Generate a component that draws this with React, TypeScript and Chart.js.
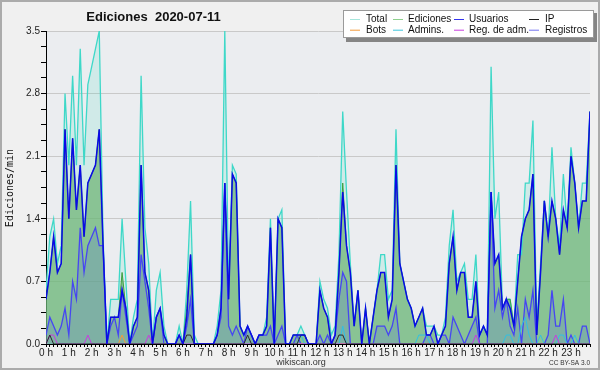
import React, { useEffect, useRef } from "react";
import { Chart, registerables } from "chart.js";

Chart.register(...registerables);

const TITLE = "Ediciones  2020-07-11";
const Y_TITLE = "Ediciones/min";
const FOOTER = "wikiscan.org";
const LICENSE = "CC BY-SA 3.0";

const HOUR_LABELS = [
  "0 h", "1 h", "2 h", "3 h", "4 h", "5 h", "6 h", "7 h", "8 h", "9 h", "10 h", "11 h",
  "12 h", "13 h", "14 h", "15 h", "16 h", "17 h", "18 h", "19 h", "20 h", "21 h", "22 h", "23 h",
];
const Y_TICKS = [0, 0.7, 1.4, 2.1, 2.8, 3.5];
const Y_MINOR_PER_MAJOR = 4;

// one value every 10 minutes (edits per minute)
const TOTAL = [
  0.6, 1.2, 1.4, 0.9, 1.1, 2.8, 2.0, 3.0, 2.0, 3.3, 2.0, 2.9, 3.1, 3.3, 3.5, 1.2, 0, 0.5, 0.5, 0.5, 1.4, 0.7, 0, 0.3,
  0.5, 3.0, 1.3, 0.9, 0, 0.6, 0.8, 0.2, 0, 0, 0, 0.2, 0, 0.6, 1.6, 0.1, 0, 0, 0, 0, 0, 0.2, 0.6, 3.5,
  0.6, 2.0, 1.9, 0.2, 0.1, 0.2, 0.1, 0, 0.1, 0.1, 0.3, 1.4, 0, 1.4, 1.5, 0, 0, 0.1, 0.1, 0.2, 0.1, 0, 0, 0,
  0.7, 0.5, 0.4, 0.1, 0.2, 1.0, 2.6, 1.7, 0.9, 0.2, 0.6, 0, 0.4, 0, 0.3, 0.6, 1.0, 1.0, 0.5, 0.6, 2.4, 0.9, 0.7, 0.5,
  0.4, 0.2, 0.3, 0.4, 0.2, 0.2, 0.2, 0.1, 0.1, 0.3, 1.1, 1.5, 0.7, 0.8, 0.9, 0.5, 0.5, 1.0, 0.1, 0.2, 0.1, 3.1, 1.4, 1.7,
  0.4, 0.5, 0.5, 0.2, 1.0, 1.0, 1.8, 1.8, 2.5, 0.2, 0.9, 1.6, 1.2, 2.2, 1.4, 1.1, 1.9, 1.3, 2.2, 1.8, 1.3, 1.8, 1.8, 2.6,
];
const EDICIONES = [
  0.5, 0.8, 1.2, 0.8, 0.9, 2.4, 1.4, 2.3, 1.5, 2.0, 1.2, 1.8, 1.9, 2.0, 2.4, 1.1, 0, 0.3, 0.3, 0.3, 0.8, 0.4, 0, 0.2,
  0.3, 2.0, 0.8, 0.6, 0, 0.3, 0.4, 0.1, 0, 0, 0, 0.1, 0, 0.4, 1.0, 0, 0, 0, 0, 0, 0, 0.1, 0.4, 1.8,
  0.5, 1.9, 1.8, 0.2, 0.1, 0.2, 0.1, 0, 0.1, 0.1, 0.2, 1.3, 0, 1.4, 1.3, 0, 0, 0.1, 0.1, 0.1, 0.1, 0, 0, 0,
  0.6, 0.4, 0.3, 0, 0.1, 0.8, 1.8, 1.1, 0.8, 0.2, 0.6, 0, 0.4, 0, 0.3, 0.6, 0.8, 0.8, 0.3, 0.5, 2.0, 0.9, 0.7, 0.5,
  0.4, 0.2, 0.3, 0.4, 0.1, 0.1, 0.2, 0, 0.1, 0.2, 0.9, 1.2, 0.6, 0.8, 0.8, 0.3, 0.3, 0.7, 0.1, 0.2, 0.1, 1.7, 0.9, 1.0,
  0.4, 0.5, 0.5, 0.2, 0.7, 1.2, 1.4, 1.5, 1.9, 0.1, 0.8, 1.6, 1.2, 1.6, 1.4, 1.0, 1.5, 1.3, 2.1, 1.8, 1.3, 1.6, 1.6, 2.6,
];
const USUARIOS = [
  0.5, 0.8, 1.2, 0.8, 0.9, 2.4, 1.4, 2.3, 1.5, 2.0, 1.2, 1.8, 1.9, 2.0, 2.4, 1.1, 0, 0.3, 0.3, 0.3, 0.6, 0.4, 0, 0.2,
  0.3, 2.0, 0.8, 0.6, 0, 0.3, 0.4, 0.1, 0, 0, 0, 0.1, 0, 0.3, 1.0, 0, 0, 0, 0, 0, 0, 0.1, 0.4, 1.8,
  0.5, 1.9, 1.8, 0.2, 0.1, 0.2, 0.1, 0, 0.1, 0.1, 0.2, 1.3, 0, 1.4, 1.3, 0, 0, 0.1, 0.1, 0.1, 0.1, 0, 0, 0,
  0.6, 0.4, 0.3, 0, 0.1, 0.8, 1.7, 1.1, 0.8, 0.2, 0.6, 0, 0.4, 0, 0.3, 0.6, 0.8, 0.8, 0.3, 0.5, 2.0, 0.9, 0.7, 0.5,
  0.4, 0.2, 0.3, 0.4, 0.1, 0.1, 0.2, 0, 0.1, 0.2, 0.9, 1.2, 0.6, 0.8, 0.8, 0.3, 0.3, 0.7, 0.1, 0.2, 0.1, 1.7, 0.9, 1.0,
  0.4, 0.5, 0.4, 0.2, 0.7, 1.2, 1.4, 1.5, 1.9, 0.1, 0.8, 1.6, 1.2, 1.6, 1.4, 1.0, 1.5, 1.3, 2.1, 1.8, 1.3, 1.6, 1.6, 2.6,
];
const IP = [
  0, 0.1, 0, 0, 0, 0, 0, 0, 0, 0, 0, 0, 0, 0, 0, 0, 0, 0, 0, 0, 0, 0, 0, 0,
  0, 0, 0, 0, 0, 0, 0, 0, 0, 0, 0, 0, 0, 0.1, 0.1, 0, 0, 0, 0, 0, 0, 0, 0, 0,
  0, 0, 0, 0, 0, 0.1, 0, 0, 0, 0, 0, 0, 0, 0, 0, 0, 0, 0, 0, 0.1, 0.1, 0, 0, 0,
  0, 0, 0, 0, 0, 0.1, 0.1, 0, 0, 0, 0, 0, 0, 0, 0, 0, 0, 0, 0, 0, 0, 0, 0, 0,
  0, 0, 0, 0, 0, 0, 0, 0, 0, 0, 0, 0, 0, 0, 0, 0, 0, 0, 0, 0, 0, 0, 0, 0,
  0, 0, 0, 0, 0, 0, 0, 0, 0, 0, 0, 0, 0, 0, 0, 0, 0, 0, 0, 0, 0, 0, 0, 0,
];
const BOTS = [
  0, 0, 0, 0, 0, 0, 0, 0, 0, 0, 0, 0, 0, 0, 0, 0, 0, 0, 0, 0, 0.1, 0, 0, 0,
  0, 0, 0, 0, 0, 0, 0, 0, 0, 0, 0, 0, 0, 0, 0, 0, 0, 0, 0, 0, 0, 0, 0, 0,
  0, 0, 0, 0, 0, 0, 0, 0, 0, 0, 0, 0, 0, 0, 0, 0, 0, 0, 0, 0, 0, 0, 0, 0,
  0, 0, 0, 0, 0, 0, 0, 0, 0, 0, 0, 0, 0, 0, 0, 0, 0, 0, 0, 0, 0, 0, 0, 0,
  0, 0, 0, 0, 0, 0, 0, 0, 0, 0, 0, 0, 0, 0, 0, 0, 0, 0, 0, 0, 0, 0, 0, 0,
  0, 0, 0, 0, 0, 0, 0, 0, 0, 0, 0, 0, 0, 0, 0, 0, 0, 0, 0, 0, 0, 0, 0, 0,
];
const ADMINS = [
  0, 0, 0, 0, 0, 0, 0, 0, 0, 0, 0, 0, 0, 0, 0, 0, 0, 0, 0, 0, 0, 0, 0, 0,
  0, 0, 0, 0, 0, 0, 0, 0, 0, 0, 0, 0, 0, 0, 0, 0, 0, 0, 0, 0, 0, 0, 0, 0,
  0, 0, 0, 0, 0, 0, 0, 0, 0, 0, 0, 0, 0, 0, 0, 0, 0, 0, 0, 0.1, 0, 0, 0, 0,
  0, 0, 0, 0, 0, 0, 0.2, 0, 0, 0, 0, 0, 0, 0, 0, 0, 0, 0, 0, 0, 0, 0, 0, 0,
  0, 0, 0.1, 0.1, 0.1, 0, 0, 0, 0, 0, 0, 0, 0, 0, 0, 0, 0, 0, 0, 0, 0, 0, 0, 0,
  0, 0.1, 0.1, 0, 0, 0.2, 0.3, 0.1, 0, 0, 0.1, 0, 0, 0, 0, 0.1, 0.1, 0, 0, 0.1, 0, 0, 0, 0,
];
const REG_ADM = [
  0, 0.1, 0.1, 0, 0, 0, 0, 0, 0, 0, 0, 0.1, 0, 0, 0, 0, 0, 0, 0, 0, 0, 0, 0, 0,
  0, 0, 0, 0.1, 0, 0, 0, 0, 0, 0, 0, 0, 0, 0, 0, 0, 0, 0, 0, 0, 0, 0, 0, 0,
  0, 0, 0, 0, 0, 0, 0, 0, 0, 0, 0, 0, 0, 0, 0, 0, 0, 0, 0, 0, 0, 0, 0, 0,
  0, 0, 0, 0, 0, 0, 0, 0, 0, 0, 0, 0, 0, 0, 0, 0, 0, 0, 0, 0, 0, 0, 0, 0,
  0, 0, 0, 0, 0, 0, 0, 0, 0, 0, 0, 0, 0, 0, 0, 0, 0, 0.1, 0, 0, 0, 0, 0, 0,
  0, 0, 0, 0, 0, 0, 0, 0, 0, 0, 0, 0, 0, 0, 0.1, 0, 0, 0, 0, 0, 0, 0, 0, 0,
];
const REGISTROS = [
  0.1, 0.3, 0.2, 0.1, 0.2, 0.4, 0.1, 0.7, 0.5, 1.3, 0.8, 1.1, 1.2, 1.3, 1.1, 1.1, 0, 0.2, 0.3, 0.1, 0.6, 0.3, 0, 0.1,
  0.2, 1.0, 0.7, 0.4, 0, 0.3, 0.4, 0, 0, 0, 0, 0.1, 0, 0.2, 0.5, 0, 0, 0, 0, 0, 0, 0.1, 0.3, 1.8,
  0.2, 0.1, 0.2, 0.1, 0, 0.2, 0.1, 0, 0.1, 0.1, 0.1, 0.2, 0, 0.1, 0.2, 0, 0, 0, 0.1, 0, 0, 0, 0, 0,
  0.1, 0, 0.1, 0, 0.1, 0.5, 0.8, 0.7, 0, 0, 0, 0, 0, 0, 0, 0.2, 0.2, 0.2, 0.1, 0.2, 0.4, 0, 0, 0,
  0, 0, 0, 0, 0.1, 0.1, 0, 0, 0.1, 0.1, 0, 0.3, 0.2, 0.1, 0, 0.1, 0.2, 0.3, 0, 0, 0, 1.7, 0.4, 0.6,
  0.3, 0.5, 0.2, 0.1, 0.4, 0, 0.5, 0.3, 0.6, 0, 0, 0, 0.1, 0.6, 0.2, 0.2, 0.5, 0, 0.1, 0, 0, 0.2, 0.2, 0,
];

const LEGEND_LABELS = ["Total", "Ediciones", "Usuarios", "IP", "Bots", "Admins.", "Reg. de adm.", "Registros"];
const LEGEND_COLORS = ["#a6e6dc", "#8ed08e", "#3434ee", "#222222", "#f39a3a", "#3cc6dc", "#c83ce0", "#7272f0"];

const SANS = "'Liberation Sans', 'DejaVu Sans', sans-serif";
const NARROW = "'Liberation Sans Narrow', 'Liberation Sans', sans-serif";

const isMajor = (v: number) => {
  const step = Y_TICKS[1] - Y_TICKS[0];
  return Math.abs(v / step - Math.round(v / step)) < 1e-6;
};

export default function App() {
  const ref = useRef<HTMLCanvasElement>(null);

  useEffect(() => {
    const canvas = ref.current;
    if (!canvas) return;
    const pts = (arr: number[]) => arr.map((y, x) => ({ x, y }));

    const decor = {
      id: "decor",
      beforeDraw(chart: any) {
        const { ctx, chartArea: a } = chart;
        ctx.save();
        ctx.fillStyle = "#f0f0f0";
        ctx.fillRect(0, 0, chart.width, chart.height);
        ctx.fillStyle = "#ebedf0";
        ctx.fillRect(a.left, a.top, a.right - a.left, a.bottom - a.top);
        ctx.restore();
      },
      afterDraw(chart: any) {
        const { ctx } = chart;
        ctx.save();
        ctx.fillStyle = "#111";
        ctx.font = `bold 13px ${SANS}`;
        ctx.textAlign = "center";
        ctx.textBaseline = "alphabetic";
        ctx.fillText(TITLE, 153.5, 21);
        ctx.save();
        ctx.translate(13, 188);
        ctx.rotate(-Math.PI / 2);
        ctx.font = "10px 'DejaVu Sans Mono', monospace";
        ctx.textAlign = "center";
        ctx.fillText(Y_TITLE, 0, 0);
        ctx.restore();
        ctx.fillStyle = "#333";
        ctx.font = `9px ${SANS}`;
        ctx.textAlign = "center";
        ctx.fillText(FOOTER, 301, 365);
        ctx.font = `6.5px ${SANS}`;
        ctx.textAlign = "right";
        ctx.fillText(LICENSE, 590, 365);
        // legend
        ctx.fillStyle = "#858585";
        ctx.fillRect(346, 13, 251, 29);
        ctx.fillStyle = "#ffffff";
        ctx.fillRect(343, 10, 251, 28);
        ctx.strokeStyle = "#9a9a9a";
        ctx.lineWidth = 1;
        ctx.strokeRect(343.5, 10.5, 250, 27);
        const sw = [350, 393, 454, 529];
        const tx = [366, 408, 469, 545];
        const ry = [19, 29.7];
        const rb = [22.2, 32.8];
        ctx.font = `10px ${SANS}`;
        ctx.textAlign = "left";
        LEGEND_LABELS.forEach((lab, k) => {
          const r = k < 4 ? 0 : 1;
          const c = k % 4;
          ctx.strokeStyle = LEGEND_COLORS[k];
          ctx.beginPath();
          ctx.moveTo(sw[c], ry[r] + 0.5);
          ctx.lineTo(sw[c] + 10, ry[r] + 0.5);
          ctx.stroke();
          ctx.fillStyle = "#111";
          ctx.fillText(lab, tx[c], rb[r]);
        });
        ctx.strokeStyle = "#ababab";
        ctx.lineWidth = 2;
        ctx.strokeRect(1, 1, 598, 368);
        ctx.restore();
      },
    };

    const line = (label: string, data: number[], color: string, width: number, fill: any = false, bg = "transparent") => ({
      label,
      data: pts(data),
      borderColor: color,
      backgroundColor: bg,
      borderWidth: width,
      pointRadius: 0,
      tension: 0,
      fill,
    });

    const chart = new Chart(canvas, {
      type: "line",
      data: {
        datasets: [
          line("Usuarios", USUARIOS, "#0a0ae6", 1.5),
          line("IP", IP, "#2a2a2a", 1),
          line("Reg. de adm.", REG_ADM, "#c83ce0", 1),
          line("Admins.", ADMINS, "#30c0e4", 1),
          line("Bots", BOTS, "#f39a3a", 1),
          line("Registros", REGISTROS, "#4646f2", 1.3, "origin", "rgba(70,70,255,0.15)"),
          line("Ediciones", EDICIONES, "#3fa03f", 1, "origin", "rgba(110,180,115,0.72)"),
          line("Total", TOTAL, "#3ed8c8", 1.3, "origin", "rgba(70,220,195,0.16)"),
        ] as any,
      },
      options: {
        responsive: false,
        animation: false,
        devicePixelRatio: 1,
        layout: { padding: { left: 0, top: 31, right: 10, bottom: 0 } },
        plugins: {
          legend: { display: false },
          title: { display: false },
          tooltip: { enabled: false },
          filler: { drawTime: "beforeDatasetsDraw" },
        } as any,
        scales: {
          x: {
            type: "linear",
            min: 0,
            max: TOTAL.length - 1,
            afterBuildTicks: (s: any) => {
              s.ticks = TOTAL.map((_, i) => ({ value: i }));
            },
            afterFit: (s: any) => {
              s.height = 26;
            },
            ticks: {
              autoSkip: false,
              maxRotation: 0,
              padding: 0,
              color: "#222",
              font: { family: NARROW, size: 10 },
              callback: (v: any) => (Number(v) % 6 === 0 ? HOUR_LABELS[Number(v) / 6] : ""),
            },
            grid: { drawOnChartArea: false, tickLength: 3, tickColor: "#000", lineWidth: 1 },
            border: { color: "#000", width: 1 },
          },
          y: {
            min: 0,
            max: 3.5,
            afterBuildTicks: (s: any) => {
              const step = (Y_TICKS[1] - Y_TICKS[0]) / Y_MINOR_PER_MAJOR;
              const n = (Y_TICKS.length - 1) * Y_MINOR_PER_MAJOR;
              const t: any[] = [];
              for (let k = 0; k <= n; k++) t.push({ value: Math.round(k * step * 1000) / 1000 });
              s.ticks = t;
            },
            afterFit: (s: any) => {
              s.width = 46;
            },
            ticks: {
              padding: 1,
              autoSkip: false,
              color: "#222",
              font: { family: NARROW, size: 10 },
              callback: (v: any) => (isMajor(Number(v)) ? Number(v).toFixed(1) : ""),
            },
            grid: {
              color: (c: any) => (c.tick && isMajor(c.tick.value) ? "#c9c9c9" : "rgba(0,0,0,0)"),
              tickColor: "#000",
              tickLength: 5,
              lineWidth: 1,
            },
            border: { color: "#000", width: 1 },
          },
        },
      } as any,
      plugins: [decor],
    });

    return () => chart.destroy();
  }, []);

  return (
    <div style={{ position: "fixed", left: 0, top: 0, width: 600, height: 370 }}>
      <canvas ref={ref} width={600} height={370} style={{ display: "block" }} />
    </div>
  );
}
